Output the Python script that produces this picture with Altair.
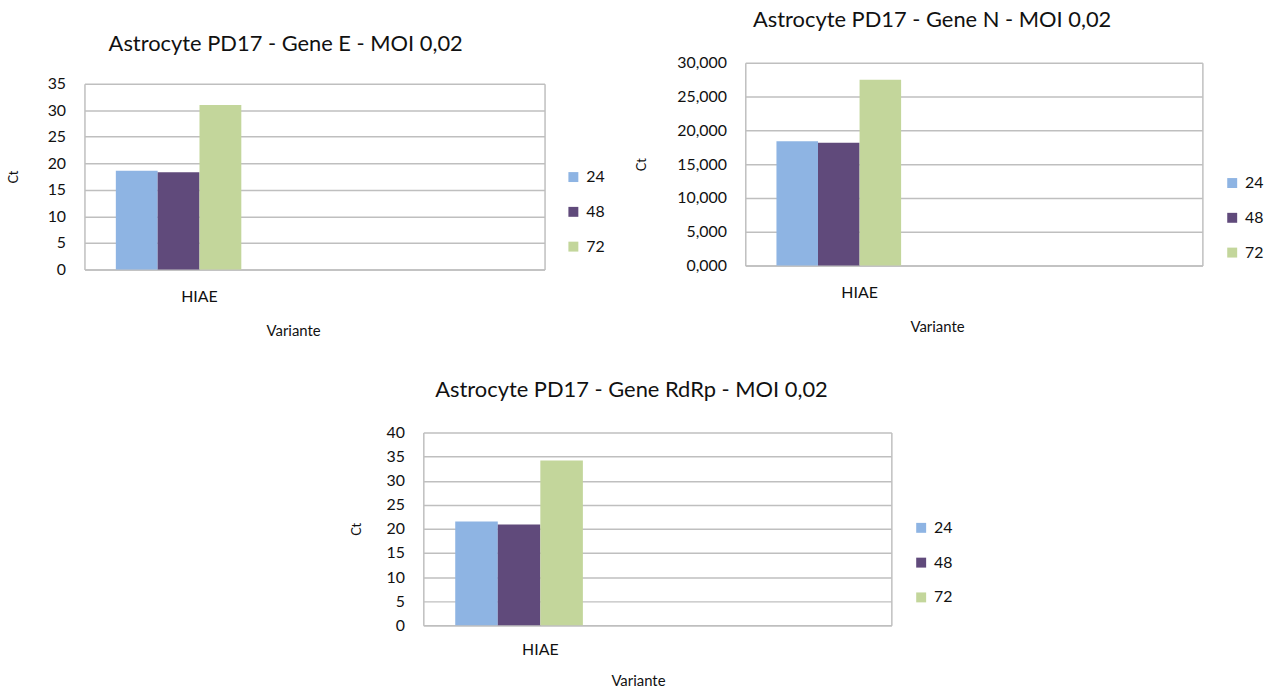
import altair as alt
import pandas as pd

# Ct values per time point (hours post infection), variant HIAE
hours = ["24", "48", "72"]
ct_gene_e = [18.6, 18.3, 31.0]
ct_gene_n = [18.4, 18.15, 27.5]
ct_gene_rdrp = [21.5, 20.9, 34.2]

variant = "HIAE"
x_categories = ["HIAE", " "]
# four bar slots per category; the last slot is an empty series
offset_slots = ["24", "48", "72", "--"]
colors = ["#8EB4E3", "#604A7B", "#C3D69B"]

FONT = "Lato"
GRID = "#BFBFBF"
TEXT = "#111111"


def panel(values, title, ymax, width, height, title_dx, title_offset,
          ytitle_x, xtitle_x, xtitle_y, legend_x, legend_y,
          comma_decimals=False, top_gap=0, label_pad=19):
    """Clustered bar panel; the plot frame starts `top_gap` px below the view top."""
    df = pd.DataFrame({"Variante": [variant] * len(hours), "Hora": hours, "Ct": values})
    view_h = height + top_gap
    yscale = alt.Scale(domain=[0, ymax], range=[view_h, top_gap], nice=False)

    yaxis_kw = dict(
        values=list(range(0, ymax + 1, 5)),
        title="Ct", titleX=ytitle_x, titleY=top_gap + height / 2, titleAngle=270,
        titleAlign="center", titleBaseline="middle", titleFontSize=13,
        titleFontWeight="normal", titleFont=FONT, titleColor=TEXT,
        labelFont=FONT, labelFontSize=16, labelColor=TEXT, labelPadding=19,
        ticks=False, domain=True, domainColor=GRID, domainWidth=1.5,
        grid=True, gridColor=GRID, gridWidth=1.5,
    )
    if comma_decimals:
        yaxis_kw["labelExpr"] = "replace(format(datum.value, '.3f'), '.', ',')"

    xaxis = alt.Axis(
        title="Variante", titleX=xtitle_x, titleY=xtitle_y, titleAlign="center",
        titleBaseline="middle", titleFontSize=15, titleFontWeight="normal",
        titleFont=FONT, titleColor=TEXT,
        labelFont=FONT, labelFontSize=16, labelColor=TEXT, labelAngle=0,
        labelPadding=label_pad, ticks=False, domain=True, domainColor=GRID,
        domainWidth=1.5, grid=False,
    )

    x_enc = alt.X("Variante:N",
                  scale=alt.Scale(domain=x_categories, paddingInner=0, paddingOuter=0),
                  axis=xaxis)
    xoff_enc = alt.XOffset("Hora:N",
                           scale=alt.Scale(domain=offset_slots, paddingInner=0, paddingOuter=0.75))

    bars = alt.Chart(df).mark_bar().encode(
        x=x_enc,
        xOffset=xoff_enc,
        y=alt.Y("Ct:Q", scale=yscale, axis=alt.Axis(**yaxis_kw)),
        color=alt.Color("Hora:N", scale=alt.Scale(domain=hours, range=colors),
                        legend=alt.Legend(orient="none", legendX=legend_x, legendY=legend_y,
                                          title=None, symbolType="square", symbolSize=100,
                                          symbolStrokeWidth=0, labelFont=FONT,
                                          labelFontSize=16, labelColor=TEXT,
                                          labelOffset=5, rowPadding=19)),
    )
    # right-hand edge of the plot frame
    frame = alt.Chart(df).mark_bar(opacity=0).encode(
        x=x_enc,
        xOffset=xoff_enc,
        y=alt.Y("Ct:Q", scale=yscale,
                axis=alt.Axis(orient="right", labels=False, ticks=False, grid=False,
                              domain=True, domainColor=GRID, domainWidth=1.5, title=None)),
    )

    return alt.layer(bars, frame).resolve_axis(y="independent").properties(
        width=width, height=view_h,
        title=alt.TitleParams(title, font=FONT, fontSize=22, fontWeight="normal",
                              color=TEXT, anchor="middle", frame="group", dx=title_dx,
                              offset=title_offset),
    )


gene_e = panel(ct_gene_e, "Astrocyte PD17 - Gene E - MOI 0,02", 35, 463, 187,
               title_dx=-29, title_offset=7, ytitle_x=-71, xtitle_x=210, xtitle_y=61,
               legend_x=484, legend_y=107, top_gap=21)
gene_n = panel(ct_gene_n, "Astrocyte PD17 - Gene N - MOI 0,02", 30, 460, 204,
               title_dx=-42, title_offset=23, ytitle_x=-104, xtitle_x=193, xtitle_y=61,
               legend_x=482, legend_y=113, comma_decimals=True)
gene_rdrp = panel(ct_gene_rdrp, "Astrocyte PD17 - Gene RdRp - MOI 0,02", 40, 471, 194,
                  title_dx=-26, title_offset=23, ytitle_x=-67, xtitle_x=216, xtitle_y=56,
                  legend_x=493, legend_y=88, label_pad=16)

# empty block that pushes the lower panel to the right
spacer = alt.Chart(pd.DataFrame({"pad": [0]})).mark_point(opacity=0).properties(
    width=268, height=10
)

indep = dict(x="independent", y="independent", color="independent", xOffset="independent")

top_row = alt.hconcat(gene_e, gene_n, spacing=31).resolve_scale(**indep)
bottom_row = alt.hconcat(spacer, gene_rdrp, spacing=0).resolve_scale(**indep)
chart = alt.vconcat(top_row, bottom_row, spacing=41).resolve_scale(**indep)

chart = chart.properties(
    padding={"left": 8, "top": 7, "right": 0, "bottom": 0},
    background="white",
).configure_view(strokeWidth=0)

chart.save("out.html", embed_options={"renderer": "svg", "actions": False})
